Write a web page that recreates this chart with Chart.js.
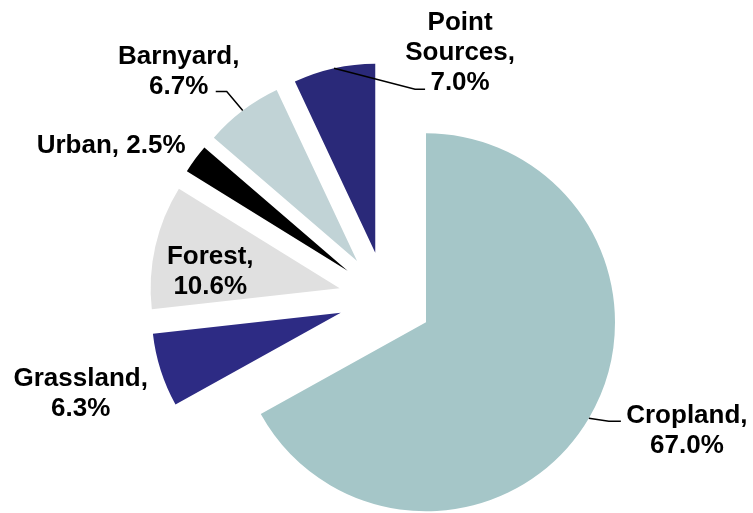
<!DOCTYPE html>
<html>
<head>
<meta charset="utf-8">
<script src="https://cdn.jsdelivr.net/npm/chart.js@4"></script>
<style>
  html, body { margin: 0; padding: 0; background: #fff; }
  canvas { display: block; }
</style>
</head>
<body>
<canvas id="chartSumber" width="753" height="513"></canvas>
<script>
// data
const categories = ["Cropland", "Grassland", "Forest", "Urban", "Barnyard", "Point Sources"];
const shares = [67.0, 6.3, 10.6, 2.5, 6.7, 7.0];
const sliceColors = ["#a5c6c8", "#2d2b84", "#e0e0e0", "#000000", "#c1d3d6", "#2a2979"];

// label layout, relative to the point where the slice's mid-angle meets its rim
const labelStyle = [
  { lines: "two",   dx: 98,   dy: 5,   leader: [[20, 3], [32, 3]] },
  { lines: "two",   dx: -80,  dy: 16,  leader: null },
  { lines: "two",   dx: 55,   dy: 17,  leader: null },
  { lines: "one",   dx: -84,  dy: -6,  leader: null },
  { lines: "two",   dx: -64,  dy: -47, leader: [[-16, -19], [-27, -19]] },
  { lines: "three", dx: 126,  dy: -38, leader: [[81, 21], [91, 21]] }
];

const explode = 47;     // px each slice is pulled out along its mid-angle
const lineGap = 30;

function labelLines(i) {
  const pct = shares[i].toFixed(1) + "%";
  const name = categories[i];
  const mode = labelStyle[i].lines;
  if (mode === "one") return [name + ", " + pct];
  if (mode === "three") {
    const words = name.split(" ");
    words[words.length - 1] += ",";
    return words.concat([pct]);
  }
  return [name + ",", pct];
}

// pulls every slice out by the same distance (chart.js' own offset also grows the radius)
const explodedSlices = {
  id: "explodedSlices",
  beforeDatasetsDraw(chart) {
    chart.getDatasetMeta(0).data.forEach(arc => {
      const mid = (arc.startAngle + arc.endAngle) / 2;
      arc._home = { x: arc.x, y: arc.y };
      arc.x += Math.cos(mid) * explode;
      arc.y += Math.sin(mid) * explode;
    });
  },
  afterDatasetsDraw(chart) {
    const c = chart.ctx;
    const arcs = chart.getDatasetMeta(0).data;
    c.save();
    c.font = "bold 26px 'Liberation Sans', Arial, sans-serif";
    c.fillStyle = "#000";
    c.strokeStyle = "#000";
    c.lineWidth = 1.5;
    c.textAlign = "center";
    c.textBaseline = "alphabetic";
    arcs.forEach((arc, i) => {
      const mid = (arc.startAngle + arc.endAngle) / 2;
      const ex = arc.x + Math.cos(mid) * arc.outerRadius;
      const ey = arc.y + Math.sin(mid) * arc.outerRadius;
      const st = labelStyle[i];
      if (st.leader) {
        c.beginPath();
        c.moveTo(ex, ey);
        st.leader.forEach(pt => c.lineTo(ex + pt[0], ey + pt[1]));
        c.stroke();
      }
      labelLines(i).forEach((txt, k) => {
        c.fillText(txt, ex + st.dx, ey + st.dy + k * lineGap);
      });
    });
    c.restore();
    arcs.forEach(arc => {
      if (arc._home) { arc.x = arc._home.x; arc.y = arc._home.y; }
    });
  }
};

new Chart(document.getElementById("chartSumber"), {
  type: "pie",
  data: {
    labels: categories,
    datasets: [{
      data: shares,
      backgroundColor: sliceColors,
      borderWidth: 0,
      hoverOffset: 0
    }]
  },
  options: {
    responsive: false,
    animation: false,
    radius: 189,
    layout: { padding: { left: 18, right: 0, top: 84, bottom: 0 } },
    plugins: {
      legend: { display: false },
      tooltip: { enabled: false }
    }
  },
  plugins: [explodedSlices]
});
</script>
</body>
</html>
